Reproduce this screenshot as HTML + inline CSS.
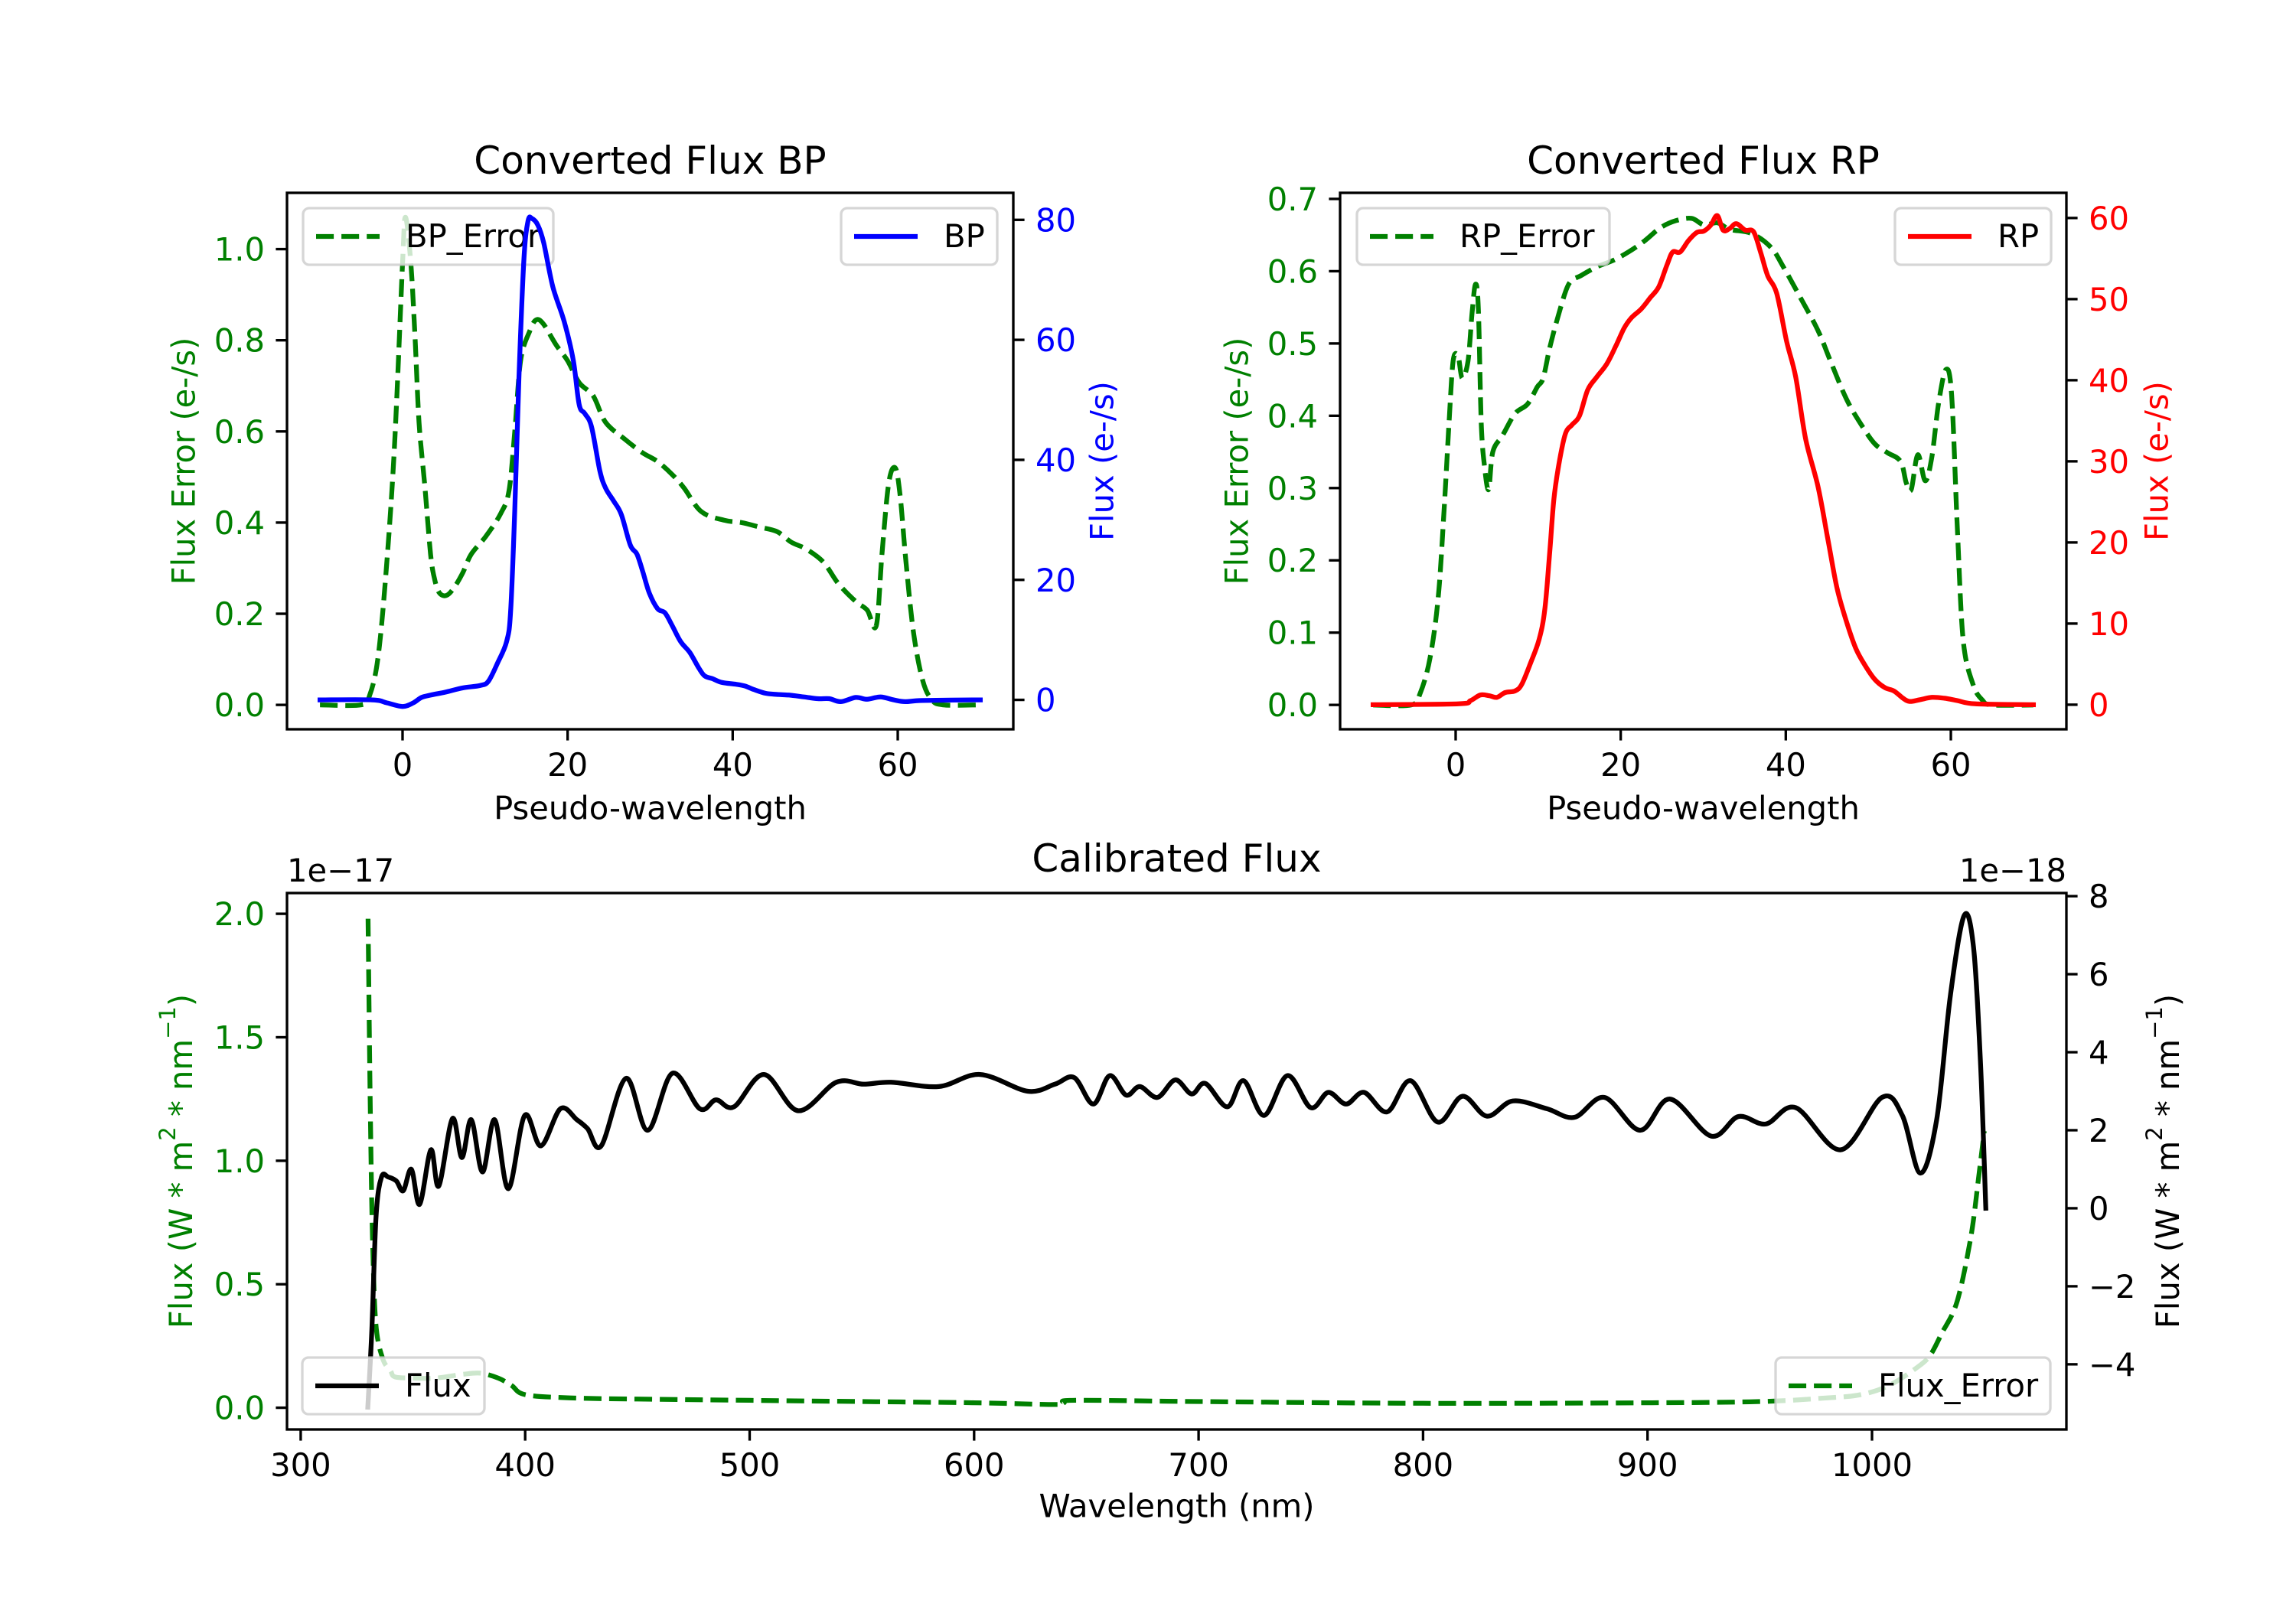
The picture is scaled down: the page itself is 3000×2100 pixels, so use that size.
<!DOCTYPE html>
<html><head><meta charset="utf-8">
<style>
html,body{margin:0;padding:0;background:#fff;}
svg{display:block;font-family:"DejaVu Sans","Liberation Sans",sans-serif;}
</style></head>
<body>
<svg id="fig" width="3000" height="2100" viewBox="0 0 3000 2100" xmlns="http://www.w3.org/2000/svg">
<rect width="3000" height="2100" fill="#fff"/>
</svg>
<script>
// ---- BP panel data ----
const bpErrX = [-10,-5,-4,-3,-2.05,-1,0,0.35,1,1.5,2,2.7,3.4,3.9,4.45,5.3,6.2,7.3,8.3,10.1,11.9,12.9,13.6,14.3,15.4,16.2,17.1,18.6,20,21.4,23.1,24.6,27,29.1,30.9,32.7,34.1,36.2,39,41.1,43.3,45.4,47.1,48.9,51,52.8,54.9,56.3,57.4,58.1,58.9,59.7,60.3,61,61.9,63,64.1,65.5,70];
const bpErrY = [0,0,0.02,0.10,0.28,0.56,0.97,1.07,0.97,0.81,0.62,0.48,0.33,0.275,0.246,0.24,0.256,0.29,0.33,0.37,0.42,0.47,0.60,0.755,0.82,0.845,0.835,0.79,0.755,0.707,0.678,0.62,0.582,0.553,0.534,0.505,0.476,0.424,0.405,0.40,0.39,0.38,0.357,0.342,0.313,0.266,0.227,0.208,0.174,0.333,0.486,0.52,0.457,0.313,0.16,0.055,0.012,0,0];
const bpX = [-10,-3.7,-1.9,0,1.3,2.3,3.4,5.2,7.3,9.4,10.4,11.5,12.6,13.1,13.6,14.1,14.7,15.2,15.7,16.4,17.1,18.2,19.6,20.7,21.4,22.1,22.9,23.9,24.6,25.6,26.5,27.6,28.4,29.1,29.9,30.9,31.8,32.7,33.7,34.8,35.9,36.6,37.6,38.7,40.4,41.5,42.6,44,45.4,46.8,48.6,50.3,51.7,53.1,54.9,56.3,57.9,59.5,60.9,63,70];
const bpY = [0,0,-0.5,-1.1,-0.5,0.4,0.8,1.3,2.0,2.4,3.1,6.1,9.7,14.8,31.6,53.5,73.3,79.8,80.2,79.1,76.2,68.9,63.0,56.5,49.2,47.7,45.5,38.2,35.3,33.1,30.9,25.8,24.3,21.4,17.8,15.2,14.5,12.3,9.7,7.9,5.3,4.0,3.5,2.9,2.6,2.3,1.7,1.1,0.9,0.8,0.5,0.2,0.2,-0.3,0.4,0.1,0.5,0,-0.3,-0.1,0];
// ---- RP panel data ----
const rpErrX = [-10,-5.4,-4.3,-3.1,-2.1,-1.4,-0.8,-0.3,0.3,0.8,1.5,2.0,2.4,2.75,3.1,3.5,4.0,4.5,5.7,7.2,8.7,9.9,10.6,11.4,12.4,13.7,15.2,17.1,19.1,21,22.9,24.8,26.7,28.6,30.1,31.7,33.2,35.9,38.2,39.7,41.6,43.9,45.4,47.4,49.3,50.8,52.3,53.9,54.6,55.2,56,56.9,57.7,58.5,59.4,60.1,60.8,61.5,62.7,63.8,65,70];
const rpErrY = [0,0,0.016,0.065,0.15,0.27,0.39,0.476,0.482,0.452,0.476,0.543,0.582,0.549,0.39,0.33,0.298,0.35,0.373,0.403,0.416,0.44,0.452,0.494,0.537,0.582,0.594,0.606,0.615,0.627,0.642,0.66,0.67,0.673,0.664,0.667,0.658,0.652,0.633,0.606,0.567,0.518,0.476,0.422,0.385,0.361,0.349,0.337,0.307,0.298,0.346,0.31,0.343,0.416,0.464,0.428,0.24,0.089,0.028,0.007,0,0];
const rpX = [-10,0.3,1.8,3.0,4.1,5.0,6.0,7.2,8.0,9.1,10.1,10.8,11.4,11.9,12.5,13.3,14.1,15,16,17.1,18.3,19.4,20.4,21.3,22.5,23.6,24.6,25.6,26.3,27.2,28.2,29.2,30.1,30.9,31.7,32.4,33.2,34,35.1,36.1,37,37.8,38.9,40.1,41.2,42.4,43.9,45.1,46.2,47.4,48.5,49.7,50.8,52,53.1,54.2,55,56.2,57.7,59.2,60.8,63,70];
const rpY = [0,0.1,0.5,1.2,1.1,0.9,1.5,1.7,2.5,5.2,8.0,11.7,18.8,25.3,29.6,33.4,34.5,35.6,38.8,40.4,42.0,44.2,46.4,47.7,48.8,50.2,51.5,54.2,55.8,55.8,57.2,58.2,58.4,59.1,60.3,58.5,58.7,59.3,58.5,58.3,55.6,52.9,50.7,44.8,40.4,32.8,26.9,20.4,14.4,10.1,6.9,4.7,3.1,2.1,1.7,0.8,0.4,0.6,0.9,0.8,0.5,0.1,0];
// ---- Calibrated panel data ----
const calX = [329.9,331.7,333.6,336,339,342.6,345.7,349.3,353,358,361.5,367.6,371.8,376,381,386.4,392.5,399.8,407,415.7,423,427.8,433.9,444.9,454.6,465.6,477.8,485,493,506.4,521.6,538.6,550.8,563,584.3,602.6,623.9,636,644.6,653.1,660.4,667.7,673.8,681.7,689.6,696.9,703,712.8,720,729.2,739.6,749.9,757.8,765.7,773.7,784,794.4,806.5,817.5,828.5,840,855.2,867.4,880.8,896.7,910,928.3,940.5,952.7,966,986.1,1004.4,1013.5,1021.5,1028.8,1034.9,1041,1045.2,1048.3,1050.7];
const calY = [-5.1,-3.1,-0.2,0.8,0.8,0.7,0.45,1.0,0.1,1.5,0.57,2.3,1.3,2.27,0.93,2.27,0.5,2.38,1.6,2.55,2.27,2.04,1.6,3.33,2.0,3.46,2.55,2.78,2.6,3.43,2.5,3.23,3.18,3.23,3.12,3.43,3.0,3.18,3.35,2.67,3.4,2.9,3.12,2.84,3.29,2.93,3.2,2.6,3.27,2.38,3.4,2.58,2.97,2.67,2.97,2.47,3.27,2.21,2.87,2.36,2.75,2.55,2.33,2.84,2.0,2.8,1.85,2.35,2.16,2.58,1.5,2.84,2.38,0.9,2.27,5.45,7.5,6.7,3.75,0.0];
const calErrX = [330,331,332,333.5,336.5,340,342,350,360,372,380,388,394,400,420,450,500,550,600,636,640,645,700,800,900,950,980,995,1007.5,1019.6,1025.7,1031,1037.9,1044,1047.6,1050];
const calErrY = [1.98,1.22,0.69,0.34,0.2,0.15,0.125,0.12,0.12,0.135,0.14,0.12,0.09,0.053,0.04,0.035,0.03,0.025,0.02,0.013,0.02,0.03,0.025,0.018,0.02,0.025,0.04,0.053,0.09,0.16,0.21,0.3,0.43,0.69,0.94,1.12];
// tick arrays
const topXTicks = [0,20,40,60];
const bpLeftTicks = [0.0,0.2,0.4,0.6,0.8,1.0];
const bpRightTicks = [0,20,40,60,80];
const rpLeftTicks = [0.0,0.1,0.2,0.3,0.4,0.5,0.6,0.7];
const rpRightTicks = [0,10,20,30,40,50,60];
const calXTicks = [300,400,500,600,700,800,900,1000];
const calLeftTicks = [0.0,0.5,1.0,1.5,2.0];
const calRightTicks = [-4,-2,0,2,4,6,8];

const NS = "http://www.w3.org/2000/svg";
const svg = document.getElementById('fig');
const FS = 41.7, LW = 6.25, SW = 3.33, TL = 14.6;
function el(tag, attrs, parent){ const e=document.createElementNS(NS,tag); for(const k in attrs) e.setAttribute(k,attrs[k]); (parent||svg).appendChild(e); return e; }
function txt(s, attrs, parent){ const e=el('text',attrs,parent); e.textContent=s; return e; }
function scale(d0,d1,p0,p1){ return v => p0+(v-d0)/(d1-d0)*(p1-p0); }
function fmt(v,dec){ return (v<0?'\u2212':'')+Math.abs(v).toFixed(dec); }
function pathD(xs,ys,sx,sy,smooth){
  const P=xs.map((x,i)=>[sx(x),sy(ys[i])]);
  if(!smooth) return P.map((p,i)=>(i?'L':'M')+p[0].toFixed(1)+','+p[1].toFixed(1)).join('');
  let d='M'+P[0][0].toFixed(1)+','+P[0][1].toFixed(1);
  for(let i=0;i<P.length-1;i++){
    const p0=P[Math.max(0,i-1)],p1=P[i],p2=P[i+1],p3=P[Math.min(P.length-1,i+2)];
    const c1=[p1[0]+(p2[0]-p0[0])/6,p1[1]+(p2[1]-p0[1])/6];
    const c2=[p2[0]-(p3[0]-p1[0])/6,p2[1]-(p3[1]-p1[1])/6];
    d+='C'+c1[0].toFixed(1)+','+c1[1].toFixed(1)+' '+c2[0].toFixed(1)+','+c2[1].toFixed(1)+' '+p2[0].toFixed(1)+','+p2[1].toFixed(1);
  }
  return d;
}

function series(g,xs,ys,sx,sy,color,dashed,name){
  const p=el('path',{d:pathD(xs,ys,sx,sy,true),fill:'none',stroke:color,'stroke-width':LW,'stroke-linejoin':'round','stroke-linecap':dashed?'butt':'square'},g);
  if(dashed) p.setAttribute('stroke-dasharray','23.1 10');
  
  
  return p;
}
function legend(g,x0,y0,w,label,color,dashed,name){
  const lg=el('g',{},g);
  
  
  el('rect',{x:x0,y:y0,width:w,height:74,rx:8,fill:'#fff','fill-opacity':0.8,stroke:'#cccccc','stroke-opacity':0.8,'stroke-width':SW},lg);
  const ln=el('line',{x1:x0+17,x2:x0+100,y1:y0+37,y2:y0+37,stroke:color,'stroke-width':LW},lg);
  if(dashed) ln.setAttribute('stroke-dasharray','23.1 10');
  txt(label,{x:x0+134,y:y0+51,'font-size':FS,fill:'#000'},lg);
}
function frame(g,L,T,R,B){
  el('rect',{x:L,y:T,width:R-L,height:B-T,fill:'none',stroke:'#000','stroke-width':SW},g);
}
function xTicks(g,ticks,sx,B,name){
  const tg=el('g',{},g);
  
  
  ticks.forEach(t=>{ const x=sx(t);
    el('line',{x1:x,x2:x,y1:B,y2:B+TL,stroke:'#000','stroke-width':SW},tg);
    txt(String(t),{x:x,y:B+61,'font-size':FS,'text-anchor':'middle',fill:'#000'},tg); });
}
function yTicks(g,ticks,sy,X,side,color,dec,name){
  const tg=el('g',{},g);
  
  
  ticks.forEach(t=>{ const y=sy(t);
    el('line',{x1:X,x2:X+(side<0?-TL:TL),y1:y,y2:y,stroke:'#000','stroke-width':SW},tg);
    txt(fmt(t,dec),{x:X+(side<0?-29:29),y:y+15,'font-size':FS,'text-anchor':side<0?'end':'start',fill:color},tg); });
}
function vlabel(g,s,x,y,color,name){
  const t=txt(s,{x:0,y:0,'font-size':FS,fill:color,'text-anchor':'middle','dominant-baseline':'central',transform:`translate(${x},${y}) rotate(-90)`},g);
  
  
  return t;
}
function hlabel(g,s,x,y,size,name){
  const t=txt(s,{x:x,y:y,'font-size':size,'text-anchor':'middle','dominant-baseline':'central',fill:'#000'},g);
  
  
  return t;
}

// ===== BP panel =====
(function(){
  const L=375,R=1324,T=252,B=953;
  const g=el('g',{});  
  const sx=scale(-14,74,L,R), sy=scale(-0.0535,1.1235,B,T), sy2=scale(-4.9,84.5,B,T);
  series(g,bpErrX,bpErrY,sx,sy,'#008000',true,'bp-error-line');
  legend(g,396,272,327,'BP_Error','#008000',true,'bp-error-legend');
  series(g,bpX,bpY,sx,sy2,'#0000ff',false,'bp-line');
  legend(g,1099,272,204,'BP','#0000ff',false,'bp-legend');
  frame(g,L,T,R,B);
  xTicks(g,topXTicks,sx,B,'bp-x-ticks');
  yTicks(g,bpLeftTicks,sy,L,-1,'#008000',1,'bp-left-y-ticks');
  yTicks(g,bpRightTicks,sy2,R,1,'#0000ff',0,'bp-right-y-ticks');
  hlabel(g,'Converted Flux BP',(L+R)/2,210,50,'bp-title');
  hlabel(g,'Pseudo-wavelength',(L+R)/2,1056,FS,'bp-x-axis-title');
  vlabel(g,'Flux Error (e-/s)',240,(T+B)/2,'#008000','bp-left-y-axis-title');
  vlabel(g,'Flux (e-/s)',1440,(T+B)/2,'#0000ff','bp-right-y-axis-title');
})();

// ===== RP panel =====
(function(){
  const L=1751,R=2700,T=252,B=953;
  const g=el('g',{});  
  const sx=scale(-14,74,L,R), sy=scale(-0.0337,0.7084,B,T), sy2=scale(-3.03,63.1,B,T);
  series(g,rpErrX,rpErrY,sx,sy,'#008000',true,'rp-error-line');
  legend(g,1773,272,330,'RP_Error','#008000',true,'rp-error-legend');
  series(g,rpX,rpY,sx,sy2,'#ff0000',false,'rp-line');
  legend(g,2476,272,204,'RP','#ff0000',false,'rp-legend');
  frame(g,L,T,R,B);
  xTicks(g,topXTicks,sx,B,'rp-x-ticks');
  yTicks(g,rpLeftTicks,sy,L,-1,'#008000',1,'rp-left-y-ticks');
  yTicks(g,rpRightTicks,sy2,R,1,'#ff0000',0,'rp-right-y-ticks');
  hlabel(g,'Converted Flux RP',(L+R)/2,210,50,'rp-title');
  hlabel(g,'Pseudo-wavelength',(L+R)/2,1056,FS,'rp-x-axis-title');
  vlabel(g,'Flux Error (e-/s)',1616,(T+B)/2,'#008000','rp-left-y-axis-title');
  vlabel(g,'Flux (e-/s)',2818,(T+B)/2,'#ff0000','rp-right-y-axis-title');
})();

// ===== Calibrated panel =====
(function(){
  const L=375,R=2700,T=1167,B=1868;
  const g=el('g',{});  
  const sx=scale(293.9,1086.6,L,R), sy=scale(-0.088,2.084,B,T), sy2=scale(-5.67,8.08,B,T);
  series(g,calErrX,calErrY,sx,sy,'#008000',true,'flux-error-line');
  series(g,calX,calY,sx,sy2,'#000000',false,'flux-line');
  legend(g,395,1774,238,'Flux','#000000',false,'flux-legend');
  legend(g,2320,1774,359,'Flux_Error','#008000',true,'flux-error-legend');
  frame(g,L,T,R,B);
  xTicks(g,calXTicks,sx,B,'calibrated-x-ticks');
  yTicks(g,calLeftTicks,sy,L,-1,'#008000',1,'calibrated-left-y-ticks');
  yTicks(g,calRightTicks,sy2,R,1,'#000000',0,'calibrated-right-y-ticks');
  hlabel(g,'Calibrated Flux',(L+R)/2,1122,50,'calibrated-title');
  hlabel(g,'Wavelength (nm)',(L+R)/2,1968,FS,'calibrated-x-axis-title');
  const o1=txt('1e\u221217',{x:L,y:1152,'font-size':FS,fill:'#000'},g);
   
  const o2=txt('1e\u221218',{x:R,y:1152,'font-size':FS,fill:'#000','text-anchor':'end'},g);
   
  function unitLabel(x,color,name){
    const t=el('text',{x:0,y:0,'font-size':FS,fill:color,'text-anchor':'middle','dominant-baseline':'central',transform:`translate(${x},${(T+B)/2}) rotate(-90)`},g);
    
    
    const a=el('tspan',{},t); a.textContent='Flux (W * m';
    const b=el('tspan',{'baseline-shift':'super','font-size':29},t); b.textContent='2';
    const c=el('tspan',{},t); c.textContent=' * nm';
    const d=el('tspan',{'baseline-shift':'super','font-size':29},t); d.textContent='\u22121';
    const e=el('tspan',{},t); e.textContent=')';
  }
  unitLabel(236,'#008000','calibrated-left-y-axis-title');
  unitLabel(2832,'#000000','calibrated-right-y-axis-title');
})();
</script>
</body></html>
